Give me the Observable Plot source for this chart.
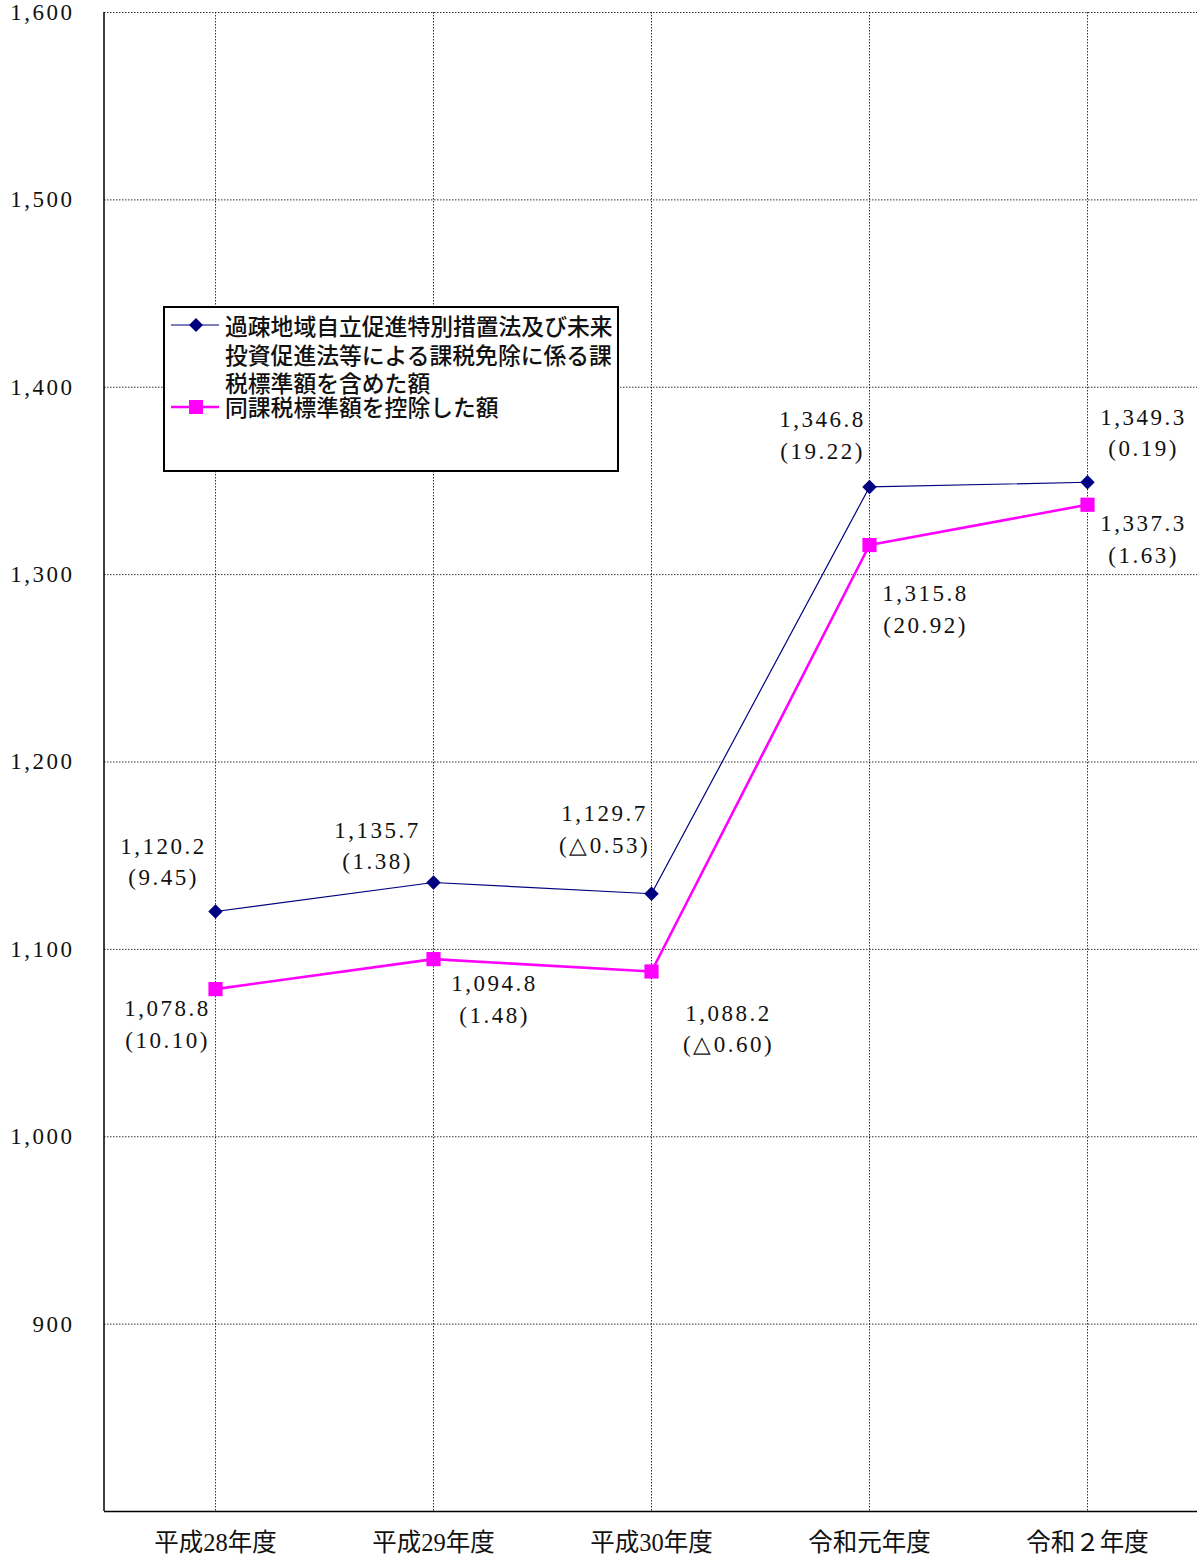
<!DOCTYPE html>
<html><head><meta charset="utf-8">
<script src="https://cdn.jsdelivr.net/npm/d3@7"></script>
<script src="https://cdn.jsdelivr.net/npm/@observablehq/plot@0.6"></script>
<style>
body{margin:0;background:#fff}
#wrap{position:relative;width:1198px;height:1556px}
[font-family="Liberation Serif, serif"], [font-family="Liberation Serif, serif"] text{letter-spacing:2.5px}
#legend{position:absolute;left:163px;top:306px;width:452px;height:162px;border:2px solid #000;background:#fff;font-family:"Noto Sans CJK JP",sans-serif;font-size:22.8px;color:#111;font-weight:500}
#legend .txt{position:absolute;left:60px;line-height:23px;height:23px;white-space:nowrap}
#legend svg{position:absolute;left:6px}
</style>
</head><body>
<div id="wrap"></div>
<script>
const categories = ["平成28年度","平成29年度","平成30年度","令和元年度","令和２年度"];
const includedValues = [1120.2,1135.7,1129.7,1346.8,1349.3];
const excludedValues = [1078.8,1094.8,1088.2,1315.8,1337.3];
const includedRates = ["9.45","1.38","△0.53","19.22","0.19"];
const excludedRates = ["10.10","1.48","△0.60","20.92","1.63"];
const yTicks = [900,1000,1100,1200,1300,1400,1500,1600];
const legendLines1 = ["過疎地域自立促進特別措置法及び未来","投資促進法等による課税免除に係る課","税標準額を含めた額"];
const legendLines2 = ["同課税標準額を控除した額"];

// label placement offsets (pixels) for the two-line value annotations
const includedLabelOffsets = [[-52,-52],[-56,-39],[-47,-67],[-47,-54],[56,-52]];
const excludedLabelOffsets = [[-48,33],[61,38],[77,55],[56,62],[56,32]];

const included = categories.map((c,i)=>({category:c, value:includedValues[i], rate:includedRates[i]}));
const excluded = categories.map((c,i)=>({category:c, value:excludedValues[i], rate:excludedRates[i]}));
const fmt = d3.format(",.1f");
const numFont = "Liberation Serif, serif";

function labelMarks(data, offsets){
  return data.map((d,i)=>Plot.text([d], {
    x:"category", y:"value", text: d=>fmt(d.value)+"\n("+d.rate+")",
    dx: offsets[i][0], dy: offsets[i][1], lineHeight:1.37,
    fontSize:23, fontFamily:numFont, fill:"#111", textAnchor:"middle"
  }));
}

const frameLeft = (index, scales, values, dims) => {
  const g = d3.create("svg:g");
  g.append("line").attr("x1",dims.marginLeft).attr("x2",dims.marginLeft)
    .attr("y1",dims.marginTop).attr("y2",dims.height-dims.marginBottom)
    .attr("stroke","#000").attr("stroke-width",1.5);
  return g.node();
};

const chart = Plot.plot({
  width:1198, height:1556,
  marginLeft:104, marginRight:1, marginTop:12, marginBottom:45,
  style:{background:"#fff", overflow:"visible"},
  x:{type:"point", domain:categories, padding:0.5},
  y:{domain:[800,1600]},
  marks:[
    Plot.gridY(yTicks, {stroke:"#000", strokeOpacity:0.8, strokeDasharray:"1.5,1.5"}),
    Plot.gridX({stroke:"#000", strokeOpacity:0.8, strokeDasharray:"1.5,1.5"}),
    Plot.ruleY([800], {stroke:"#000", strokeWidth:1.5}),
    frameLeft,
    Plot.axisY({ticks:yTicks, tickSize:0, tickPadding:30, tickFormat:d3.format(","), fontSize:23, fontFamily:numFont, fill:"#111", label:null}),
    Plot.axisX({tickSize:0, tickPadding:22, fontSize:24.5, fontFamily:"'Liberation Serif','Noto Sans CJK JP'", fill:"#111", label:null}),
    Plot.line(included, {x:"category", y:"value", stroke:"#000080", strokeWidth:1.2}),
    Plot.line(excluded, {x:"category", y:"value", stroke:"#FF00FF", strokeWidth:2.6}),
    Plot.dot(included, {x:"category", y:"value", symbol:"diamond2", r:6.5, fill:"#000080", stroke:"none"}),
    Plot.dot(excluded, {x:"category", y:"value", symbol:"square", r:8, fill:"#FF00FF", stroke:"none"}),
    ...labelMarks(included, includedLabelOffsets),
    ...labelMarks(excluded, excludedLabelOffsets)
  ]
});
const wrap = document.getElementById("wrap");
wrap.appendChild(chart);

const legend = document.createElement("div");
legend.id = "legend";
const tops1 = [6, 35, 63];
let html =
  '<svg width="48" height="20" style="top:7px"><line x1="0" x2="48" y1="10" y2="10" stroke="#000080" stroke-width="1.2"/><path d="M25,3 L32,10 L25,17 L18,10 Z" fill="#000080"/></svg>' +
  '<svg width="48" height="20" style="top:89px"><line x1="0" x2="48" y1="10" y2="10" stroke="#FF00FF" stroke-width="2.6"/><rect x="18" y="3" width="14" height="14" fill="#FF00FF"/></svg>';
legendLines1.forEach((t,i)=>{ html += '<div class="txt" style="top:'+tops1[i]+'px">'+t+'</div>'; });
html += '<div class="txt" style="top:87px">'+legendLines2[0]+'</div>';
legend.innerHTML = html;
wrap.appendChild(legend);
</script>
</body></html>
